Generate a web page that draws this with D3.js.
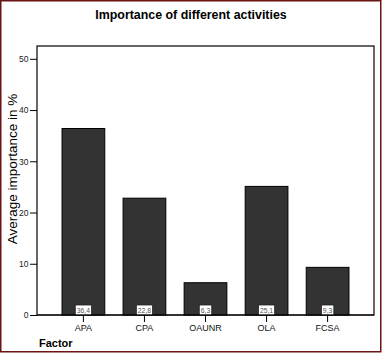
<!DOCTYPE html>
<html>
<head>
<meta charset="utf-8">
<script src="https://cdn.jsdelivr.net/npm/d3@7"></script>
<style>
  body { margin: 0; background: #fff; }
  svg text { font-family: Arial, "Liberation Sans", sans-serif; }
</style>
</head>
<body>
<div class="chart"></div>
<script>
let factors = ['APA', 'CPA', 'OAUNR', 'OLA', 'FCSA']
let importance = [36.4, 22.8, 6.3, 25.1, 9.3]
let yTicks = [0, 10, 20, 30, 40, 50]

let width = 382
let height = 353

let svg = d3.select('.chart')
            .append('svg')
            .attr('width', width)
            .attr('height', height)

// outer frame
svg.append('rect')
   .attr('x', 0.75).attr('y', 0.75)
   .attr('width', 380).attr('height', 351)
   .attr('fill', 'white')
   .attr('stroke', '#6b1414')
   .attr('stroke-width', 1.5)

let plotLeft = 37, plotRight = 374, plotTop = 46, plotBottom = 315

let x = d3.scaleBand()
          .domain(factors)
          .range([plotLeft, plotRight])
          .paddingInner(0.3)
          .paddingOuter(0.41)

let y = d3.scaleLinear()
          .domain([0, 52.5])
          .range([plotBottom, plotTop])

// plot frame
svg.append('rect')
   .attr('x', plotLeft).attr('y', plotTop)
   .attr('width', plotRight - plotLeft).attr('height', plotBottom - plotTop)
   .attr('fill', 'white')
   .attr('stroke', 'black')
   .attr('stroke-width', 1.2)

let yAxis = d3.axisLeft(y)
              .tickValues(yTicks)
              .tickSize(7)
              .tickPadding(1.5)
              .tickSizeOuter(0)

let gy = svg.append('g')
   .attr('transform', `translate(${plotLeft},0)`)
   .call(yAxis)
gy.select('.domain').remove()
gy.selectAll('text').attr('font-size', 8.5).attr('fill', '#222')

svg.selectAll('rect.bar')
   .data(importance)
   .enter()
   .append('rect')
   .attr('class', 'bar')
   .attr('x', (d, i) => x(factors[i]))
   .attr('y', d => y(d))
   .attr('width', x.bandwidth())
   .attr('height', d => y(0) - y(d))
   .attr('fill', '#333333')
   .attr('stroke', 'black')
   .attr('stroke-width', 1)

let xAxis = d3.axisBottom(x)
              .tickSize(7)
              .tickPadding(3)
              .tickSizeOuter(0)

let gx = svg.append('g')
   .attr('transform', `translate(0,${plotBottom})`)
   .call(xAxis)
gx.select('.domain').remove()
gx.selectAll('text').attr('font-size', 9).attr('fill', '#111')

// value boxes
importance.forEach((d, i) => {
    let cx = x(factors[i]) + x.bandwidth() / 2
    let g = svg.append('g')
    let t = g.append('text')
        .attr('x', cx)
        .attr('y', plotBottom - 2.5)
        .attr('text-anchor', 'middle')
        .attr('font-size', 6.8)
        .attr('fill', '#555')
        .text(String(d).replace('.', ','))
    let w = t.node().getComputedTextLength() + 3
    g.insert('rect', 'text')
        .attr('x', cx - w / 2)
        .attr('y', plotBottom - 10)
        .attr('width', w)
        .attr('height', 10)
        .attr('fill', 'white')
        .attr('stroke', '#222')
        .attr('stroke-width', 0.8)
})

// baseline on top of bars
svg.append('line')
   .attr('x1', plotLeft).attr('x2', plotRight)
   .attr('y1', plotBottom).attr('y2', plotBottom)
   .attr('stroke', 'black')
   .attr('stroke-width', 1.2)

svg.append('text')
   .attr('x', 191)
   .attr('y', 19)
   .attr('text-anchor', 'middle')
   .attr('font-size', 12.4)
   .attr('font-weight', 'bold')
   .text('Importance of different activities')

svg.append('text')
   .attr('transform', 'translate(16.5,169) rotate(-90)')
   .attr('text-anchor', 'middle')
   .attr('font-size', 13.5)
   .text('Average importance in %')

svg.append('text')
   .attr('x', 39)
   .attr('y', 347)
   .attr('font-size', 11)
   .attr('font-weight', 'bold')
   .text('Factor')
</script>
</body>
</html>
